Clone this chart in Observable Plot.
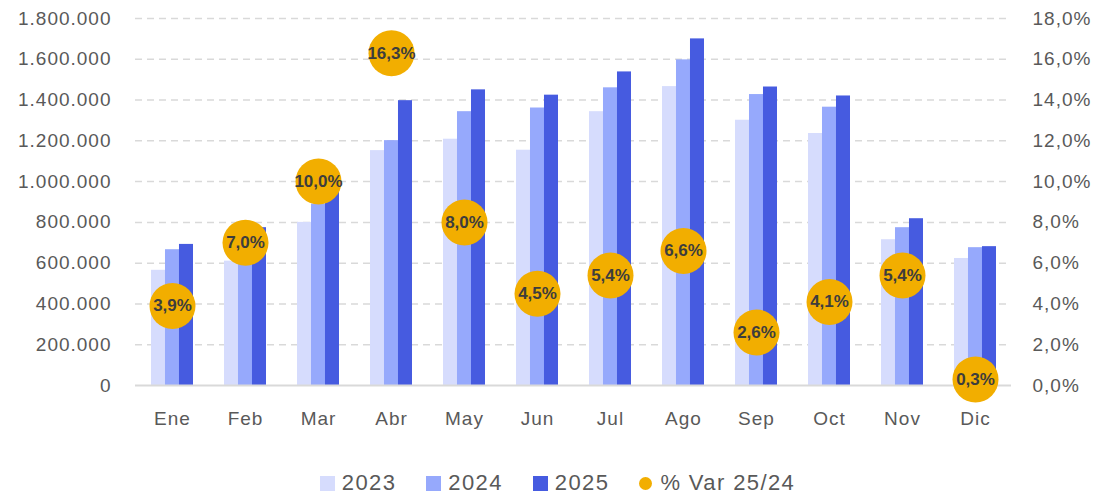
<!DOCTYPE html>
<html>
<head>
<meta charset="utf-8">
<script src="https://cdn.jsdelivr.net/npm/d3@7"></script>
<script src="https://cdn.jsdelivr.net/npm/@observablehq/plot@0.6"></script>
<style>
  html, body { margin: 0; padding: 0; background: #ffffff; }
  #chart { width: 1115px; }
  .legend {
    display: flex; justify-content: center; align-items: center;
    margin-top: 30px; height: 26px;
    font-family: "Liberation Sans", Arial, sans-serif; font-size: 22px;
    letter-spacing: 1.4px; color: #595959;
  }
  .legend .item { display: flex; align-items: center; margin: 0 15px; }
  .legend .sw { width: 15px; height: 15px; margin-right: 7px; }
  .legend .dot { width: 13px; height: 13px; border-radius: 50%; margin-right: 8px; }
</style>
</head>
<body>
<div id="chart"></div>
<script>
const months = ["Ene","Feb","Mar","Abr","May","Jun","Jul","Ago","Sep","Oct","Nov","Dic"];
const years = ["2023","2024","2025"];
const v2023 = [565000, 610000, 800000, 1152000, 1208000, 1154000, 1343000, 1466000, 1301000, 1236000, 715000, 623000];
const v2024 = [666000, 723000, 890000, 1201000, 1343000, 1361000, 1460000, 1597000, 1427000, 1365000, 774000, 676000];
const v2025 = [692000, 774000, 979000, 1397000, 1450000, 1424000, 1538000, 1700000, 1464000, 1420000, 818000, 681000];
const varPct = [3.9, 7.0, 10.0, 16.3, 8.0, 4.5, 5.4, 6.6, 2.6, 4.1, 5.4, 0.3];
const leftTicks = [0, 200000, 400000, 600000, 800000, 1000000, 1200000, 1400000, 1600000, 1800000];
const rightTicks = [0, 2, 4, 6, 8, 10, 12, 14, 16, 18];
const varLabel = "% Var 25/24";

const colors = ["#d6dcfd", "#96a9fc", "#465be0"];
const amber = "#f2ae00";
const series = [v2023, v2024, v2025];

const W = 1115, H = 440, ML = 135, MR = 104, MT = 18, MB = 55;
const pI = 0.425, pO = 0.2125;
const step = (W - ML - MR) / (months.length - pI + 2 * pO);
const bw = step * (1 - pI);
const pctScale = 1800000 / 18;

const es = d3.formatLocale({decimal: ",", thousands: ".", grouping: [3], currency: ["", ""]});
const fmtInt = es.format(",d");
const fmtPct = p => p.toFixed(1).replace(".", ",") + "%";

const barMarks = series.map((vals, i) => Plot.barY(
  months.map((m, j) => ({month: m, value: vals[j]})),
  {x: "month", y: "value", fill: colors[i],
   insetLeft: i * bw / 3, insetRight: (2 - i) * bw / 3}
));

const varData = months.map((m, j) => ({month: m, p: varPct[j]}));

const plot = Plot.plot({
  width: W, height: H,
  marginLeft: ML, marginRight: MR, marginTop: MT, marginBottom: MB,
  style: {fontFamily: "Liberation Sans, Arial, sans-serif", fontSize: "19px", color: "#595959", background: "#ffffff", letterSpacing: "1px"},
  x: {domain: months, paddingInner: pI, paddingOuter: pO, axis: null},
  y: {domain: [0, 1800000], axis: null},
  marks: [
    Plot.ruleY(leftTicks.filter(v => v > 0), {stroke: "#d9d9d9", strokeWidth: 1.5, strokeDasharray: "7,5"}),
    ...barMarks,
    Plot.ruleY([0], {stroke: "#d9d9d9", strokeWidth: 2}),
    Plot.axisX({anchor: "bottom", tickSize: 0, tickPadding: 26, fontSize: 19, fill: "#595959", label: null}),
    Plot.axisY({anchor: "left", ticks: leftTicks, tickFormat: fmtInt, tickSize: 0, tickPadding: 24, fontSize: 19, fill: "#595959", label: null}),
    Plot.axisY({anchor: "right", ticks: rightTicks.map(p => p * pctScale), tickFormat: d => fmtPct(d / pctScale), tickSize: 0, tickPadding: 21, fontSize: 19, fill: "#595959", label: null}),
    Plot.dot(varData, {x: "month", y: d => d.p * pctScale, r: 23, fill: amber, stroke: "none"}),
    Plot.text(varData, {x: "month", y: d => d.p * pctScale, text: d => fmtPct(d.p), fontSize: 17, fontWeight: "bold", fill: "#3d3d3d"})
  ]
});
d3.select(plot).selectAll('g[aria-label="text"] text').attr("letter-spacing", "0");
document.getElementById("chart").appendChild(plot);

const legend = document.createElement("div");
legend.className = "legend";
years.forEach((y, i) => {
  const it = document.createElement("div"); it.className = "item";
  const sw = document.createElement("div"); sw.className = "sw"; sw.style.background = colors[i];
  const t = document.createElement("span"); t.textContent = y;
  it.appendChild(sw); it.appendChild(t); legend.appendChild(it);
});
{
  const it = document.createElement("div"); it.className = "item";
  const dt = document.createElement("div"); dt.className = "dot"; dt.style.background = amber;
  const t = document.createElement("span"); t.textContent = varLabel;
  it.appendChild(dt); it.appendChild(t); legend.appendChild(it);
}
document.getElementById("chart").appendChild(legend);
</script>
</body>
</html>
